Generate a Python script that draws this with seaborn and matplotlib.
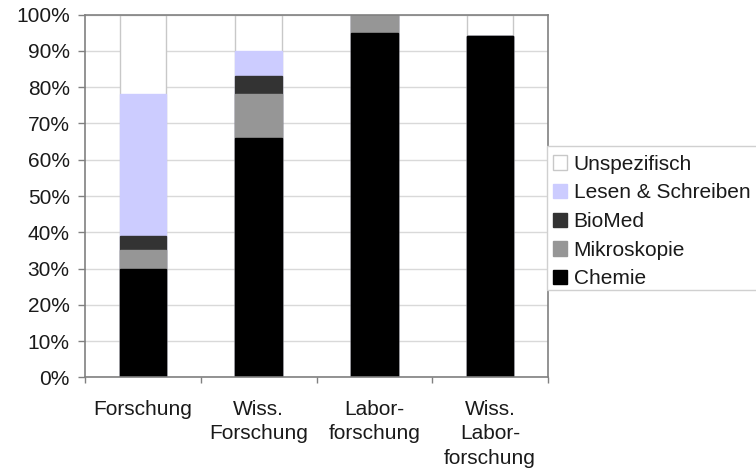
import numpy as np
import pandas as pd
import seaborn as sns
import matplotlib
matplotlib.use('Agg')
import matplotlib.pyplot as plt
from matplotlib.patches import Patch, Rectangle

# data (percent of each group)
categories = ['Forschung', 'Wiss.\nForschung', 'Labor-\nforschung', 'Wiss.\nLabor-\nforschung']
chemie = [30, 66, 95, 94]
mikroskopie = [5, 12, 5, 0]
biomed = [4, 5, 0, 0]
lesen = [39, 7, 0, 0]
unspezifisch = [22, 10, 0, 6]

segments = ['Chemie', 'Mikroskopie', 'BioMed', 'Lesen & Schreiben', 'Unspezifisch']
seg_values = [chemie, mikroskopie, biomed, lesen, unspezifisch]
seg_colors = ['#000000', '#969696', '#333333', '#ccccff', '#ffffff']

sns.set_style('white')
plt.rcParams['font.family'] = ['Liberation Sans', 'DejaVu Sans']
fs = 15

W, H = 756, 469
fig = plt.figure(figsize=(W/100, H/100), dpi=100)
ax = fig.add_axes([85/W, 1-377.3/H, 463/W, 362.6/H])

# cumulative totals, draw the tallest first so lower segments sit on top
cum = np.cumsum(np.array(seg_values), axis=0)
for i in range(len(segments)-1, -1, -1):
    df = pd.DataFrame({'cat': categories, 'val': cum[i]})
    edge = '#c8c8c8' if segments[i] == 'Unspezifisch' else seg_colors[i]
    sns.barplot(data=df, x='cat', y='val', color=seg_colors[i], saturation=1,
                width=0.4, errorbar=None, edgecolor=edge, linewidth=1, ax=ax, zorder=2)

ax.set_ylim(0, 100)
ax.set_xlim(-0.5, 3.5)
ax.set_yticks(np.arange(0, 101, 10))
ax.set_yticklabels([f'{v}%' for v in range(0, 101, 10)])
ax.yaxis.grid(True, color='#d9d9d9', linewidth=1, zorder=0)
ax.set_axisbelow(True)
ax.set_xlabel('')
ax.set_ylabel('')

for s in ['left', 'bottom', 'top', 'right']:
    ax.spines[s].set_color('#808080')
    ax.spines[s].set_linewidth(1.2)

ax.tick_params(axis='y', direction='out', length=5, width=1, color='#808080',
               labelsize=fs, pad=6, labelcolor='#1a1a1a', left=True)
ax.tick_params(axis='x', which='major', length=0, labelsize=fs, pad=16, labelcolor='#1a1a1a')
ax.set_xticks([-0.5, 0.5, 1.5, 2.5, 3.5], minor=True)
ax.tick_params(axis='x', which='minor', direction='out', length=4, width=1, color='#808080', bottom=True)
for lbl in ax.get_xticklabels():
    lbl.set_linespacing(1.38)

# legend box: white, light border, runs off the right edge
fig.patches.append(Rectangle((547/W, 1-290/H), 220/W, 144/H, transform=fig.transFigure,
                             facecolor='white', edgecolor='#d0d0d0', linewidth=1, zorder=3))

handles = [Patch(facecolor=seg_colors[i],
                 edgecolor='#c8c8c8' if segments[i] == 'Unspezifisch' else seg_colors[i],
                 label=segments[i]) for i in range(len(segments)-1, -1, -1)]
leg = fig.legend(handles=handles, loc='upper left', bbox_to_anchor=(548/W, 1-149.5/H),
                 fontsize=fs, frameon=False, borderpad=0.25,
                 handlelength=0.68, handleheight=0.68, handletextpad=0.3, labelspacing=0.465,
                 borderaxespad=0)
leg.set_zorder(5)
for t in leg.get_texts():
    t.set_color('#1a1a1a')

fig.savefig('out.png', dpi=100, facecolor='white')
